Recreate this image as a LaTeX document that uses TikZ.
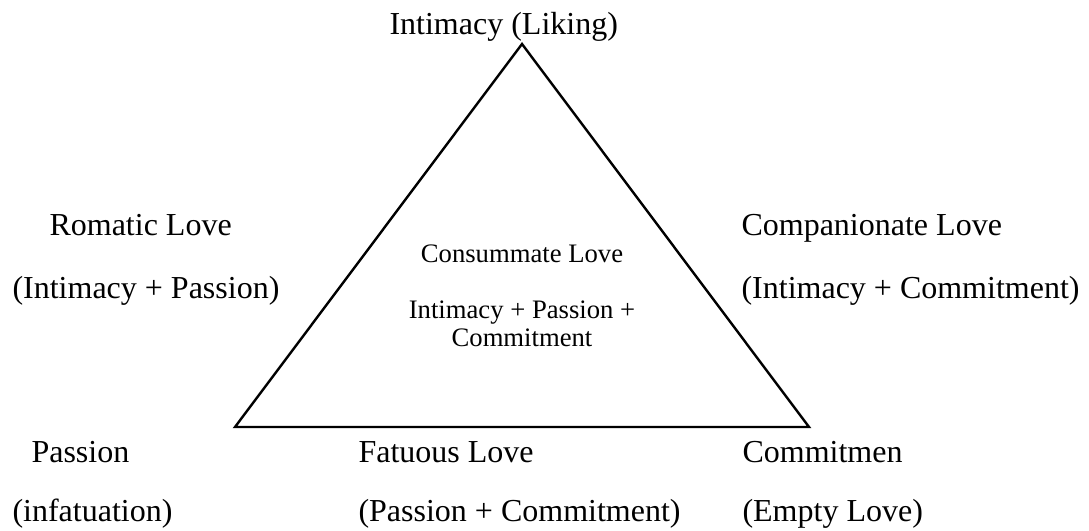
\documentclass[tikz,border=0pt]{standalone}
\usepackage{fontspec}
\setmainfont{Liberation Serif}
\usepackage{tikz}
\tikzset{lbl/.style = {font = \fontsize{12}{14}\selectfont, inner sep = 0, anchor = base west}}
\tikzset{sml/.style = {font = \fontsize{10}{10.5}\selectfont, inner sep = 0, align = center}}
\begin{document}
\begin{tikzpicture}[x=0.375pt,y=-0.375pt]
        \useasboundingbox (0,0) rectangle (1089,531);
        \coordinate (top) at (522,44);
        \coordinate (pas) at (235,427);
        \coordinate (com) at (809,427);
        \draw [line width=0.9pt, line join=miter] (top) -- (pas) -- (com) -- cycle;
        \node [lbl] (liking) at (389,35) {Intimacy (Liking)};
        \node [lbl] (romantic) at (49,235) {Romatic Love};
        \node [lbl] (romanticsum) at (12,298) {(Intimacy + Passion)};
        \node [lbl] (companion) at (741,235) {Companionate Love};
        \node [lbl] (companionsum) at (741,298) {(Intimacy + Commitment)};
        \node [sml] (consummate) at (522,254) {Consummate Love};
        \node [sml] (consummatesum) at (522,324) {Intimacy + Passion +\\Commitment};
        \node [lbl] (passion) at (31,462) {Passion};
        \node [lbl] (infatuation) at (12,521) {(infatuation)};
        \node [lbl] (fatuous) at (358,462) {Fatuous Love};
        \node [lbl] (fatuoussum) at (358,521) {(Passion + Commitment)};
        \node [lbl] (commitment) at (742,462) {Commitmen};
        \node [lbl] (empty) at (742,521) {(Empty Love)};
    \end{tikzpicture}
\end{document}
